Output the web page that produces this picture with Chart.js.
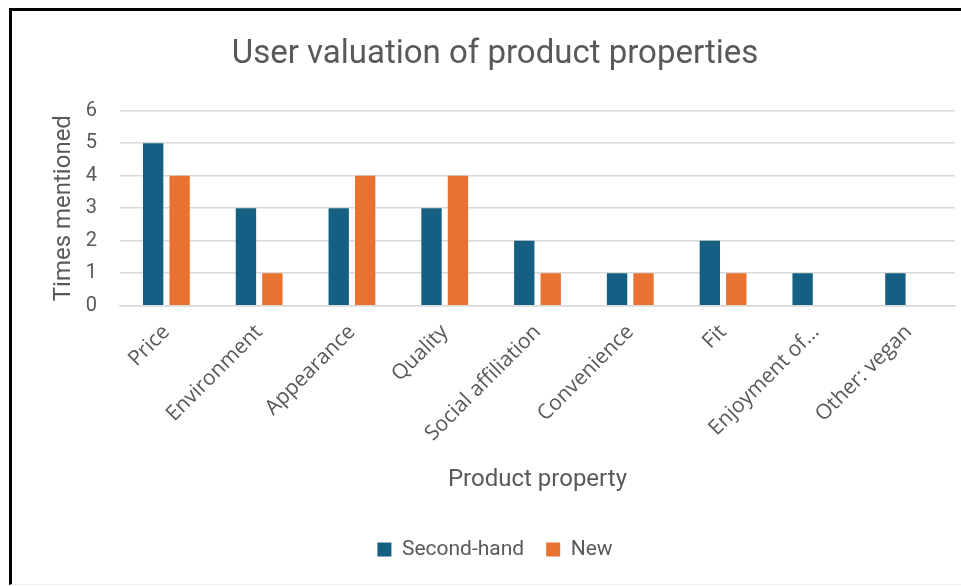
<!DOCTYPE html>
<html>
<head>
<meta charset="utf-8">
<script src="https://cdn.jsdelivr.net/npm/chart.js@4"></script>
<style>
    html, body {
        margin: 0;
        padding: 0;
        background: #fff;
        overflow: hidden;
    }
    .frame {
        position: absolute;
        left: 9px;
        top: 8px;
        width: 980px;
        height: 573px;
        border-left: 3px solid #000;
        border-top: 3px solid #000;
        border-bottom: 1px solid #eeeeee;
    }
    .frame canvas {
        display: block;
    }
</style>
</head>
<body>
<div class="frame">
    <canvas id="property-chart" width="964" height="573"></canvas>
</div>
<script>
const categories = [
    "Price",
    "Environment",
    "Appearance",
    "Quality",
    "Social affiliation",
    "Convenience",
    "Fit",
    "Enjoyment of…",
    "Other: vegan",
];
const secondHand = [5, 3, 3, 3, 2, 1, 2, 1, 1];
const newItems = [4, 1, 4, 4, 1, 1, 1, null, null];
const yTicks = [0, 1, 2, 3, 4, 5, 6];

const textColor = "#595959";
const gridColor = "#d9d9d9";
const fontFamily = "Roboto, 'Open Sans', sans-serif";
const labelFamily = "'Open Sans', Roboto, sans-serif";

document.addEventListener("DOMContentLoaded", function () {
    const ctx = document.getElementById("property-chart").getContext("2d");

    new Chart(ctx, {
        type: "bar",
        data: {
            labels: categories,
            datasets: [
                {
                    label: "Second-hand",
                    data: secondHand,
                    backgroundColor: "#156082",
                },
                {
                    label: "New",
                    data: newItems,
                    backgroundColor: "#e97132",
                },
            ],
        },
        options: {
            responsive: false,
            animation: false,
            categoryPercentage: 0.57,
            barPercentage: 0.77,
            layout: {
                padding: { left: 23, right: 21, top: 0, bottom: 14 },
            },
            plugins: {
                title: {
                    display: true,
                    text: "User valuation of product properties",
                    color: textColor,
                    font: { family: fontFamily, size: 33, weight: "normal" },
                    padding: { top: 24, bottom: 36 },
                },
                legend: {
                    position: "bottom",
                    labels: {
                        color: textColor,
                        font: { family: fontFamily, size: 21 },
                        boxWidth: 14,
                        boxHeight: 14,
                        padding: 22,
                    },
                },
                tooltip: { enabled: false },
            },
            scales: {
                x: {
                    grid: { display: false },
                    border: { color: gridColor, width: 1.5 },
                    ticks: {
                        color: textColor,
                        font: { family: labelFamily, size: 21 },
                        minRotation: 45,
                        maxRotation: 45,
                        padding: 6,
                    },
                    title: {
                        display: true,
                        text: "Product property",
                        color: textColor,
                        font: { family: fontFamily, size: 24 },
                        padding: { top: 13, bottom: 23 },
                    },
                },
                y: {
                    min: 0,
                    max: 6,
                    afterBuildTicks: (axis) => {
                        axis.ticks = yTicks.map((v) => ({ value: v }));
                    },
                    // fixed width keeps the plot's left edge in place
                    afterFit: (axis) => {
                        axis.width = 85;
                    },
                    grid: {
                        color: gridColor,
                        lineWidth: 1.5,
                        drawTicks: false,
                    },
                    border: { display: false },
                    ticks: {
                        color: textColor,
                        font: { family: fontFamily, size: 20 },
                        padding: 23,
                    },
                    title: {
                        display: true,
                        text: "Times mentioned",
                        color: textColor,
                        font: { family: fontFamily, size: 24 },
                        padding: { top: 15, bottom: 0 },
                    },
                },
            },
        },
    });
});
</script>
</body>
</html>
